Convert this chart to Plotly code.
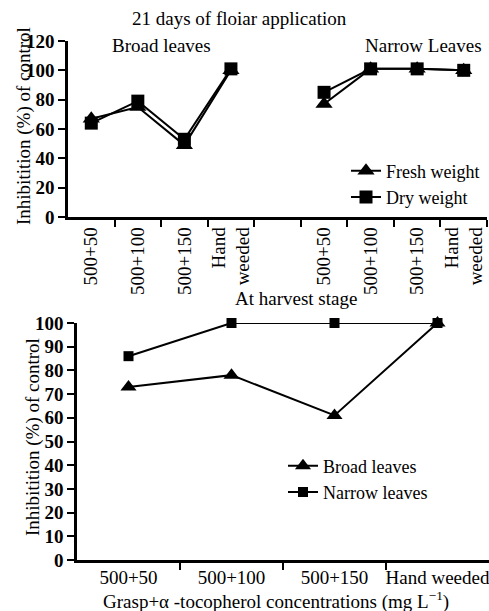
import plotly.graph_objects as go

# ---------------- data ----------------
top_categories = ["500+50", "500+100", "500+150", "Hand<br>weeded"]
broad_fresh = [67, 75, 49, 100]
broad_dry = [64, 79, 53, 101]
narrow_fresh = [77, 101, 101, 100]
narrow_dry = [85, 101, 101, 100]

bottom_categories = ["500+50", "500+100", "500+150", "Hand weeded"]
harvest_broad = [73, 78, 61, 100]
harvest_narrow = [86, 100, 100, 100]

top_y_ticks = [0, 20, 40, 60, 80, 100, 120]
bottom_y_ticks = [0, 10, 20, 30, 40, 50, 60, 70, 80, 90, 100]

# ---------------- layout helpers ----------------
W, H = 489, 611
FONT = "Liberation Serif"


def fx(px):
    return px / W


def fy(py):
    return 1 - py / H


broad_x = list(range(len(top_categories)))                    # slots 0..3
narrow_x = [i + len(top_categories) + 1 for i in broad_x]     # slots 5..8
bottom_x = list(range(len(bottom_categories)))

fig = go.Figure()

line_style = dict(color="black", width=2)
tri = dict(symbol="triangle-up", size=15, color="black")
sq = dict(symbol="square", size=13, color="black")

# top panel
fig.add_trace(go.Scatter(x=broad_x, y=broad_fresh, mode="lines+markers", name="Fresh weight",
                         legendgroup="fw", line=line_style, marker=tri, cliponaxis=False,
                         xaxis="x", yaxis="y", legend="legend"))
fig.add_trace(go.Scatter(x=narrow_x, y=narrow_fresh, mode="lines+markers", name="Fresh weight",
                         legendgroup="fw", showlegend=False, line=line_style, marker=tri,
                         cliponaxis=False, xaxis="x", yaxis="y"))
fig.add_trace(go.Scatter(x=broad_x, y=broad_dry, mode="lines+markers", name="Dry weight",
                         legendgroup="dw", line=line_style, marker=sq, cliponaxis=False,
                         xaxis="x", yaxis="y", legend="legend"))
fig.add_trace(go.Scatter(x=narrow_x, y=narrow_dry, mode="lines+markers", name="Dry weight",
                         legendgroup="dw", showlegend=False, line=line_style, marker=sq,
                         cliponaxis=False, xaxis="x", yaxis="y"))

# bottom panel
fig.add_trace(go.Scatter(x=bottom_x, y=harvest_broad, mode="lines+markers", name="Broad leaves",
                         line=line_style, marker=dict(symbol="triangle-up", size=14, color="black"),
                         cliponaxis=False, xaxis="x2", yaxis="y2", legend="legend2"))
fig.add_trace(go.Scatter(x=bottom_x, y=harvest_narrow, mode="lines+markers", name="Narrow leaves",
                         line=line_style, marker=dict(symbol="square", size=10, color="black"),
                         cliponaxis=False, xaxis="x2", yaxis="y2", legend="legend2"))

axis_common = dict(showline=True, linecolor="black", linewidth=2.5, showgrid=False,
                   zeroline=False, automargin=False)
num_font = dict(family=FONT, size=19, color="black", weight="bold")
cat_font = dict(family=FONT, size=19, color="black")

top_slots = len(top_categories) * 2 + 1
bottom_slots = len(bottom_categories)

legend_font = dict(family=FONT, size=18, color="black")

fig.update_layout(
    width=W, height=H,
    margin=dict(l=0, r=0, t=0, b=0),
    paper_bgcolor="white", plot_bgcolor="white",
    font=dict(family=FONT, size=19, color="black"),
    xaxis=dict(domain=[fx(68), fx(487)], anchor="y", range=[-0.5, top_slots - 0.5],
               tickmode="array", tickvals=broad_x + narrow_x, ticktext=top_categories * 2,
               tickangle=-90, ticks="", tickfont=cat_font, ticklabeloverflow="allow",
               minor=dict(tickmode="array", tickvals=[i + 0.5 for i in range(top_slots)],
                          ticks="outside", ticklen=7, tickwidth=2, tickcolor="black"),
               **axis_common),
    yaxis=dict(domain=[fy(217), fy(41)], anchor="x", range=[0, 120],
               tickmode="array", tickvals=top_y_ticks, ticks="outside", ticklen=7,
               tickwidth=2, tickcolor="black", tickfont=num_font, **axis_common),
    xaxis2=dict(domain=[fx(77), 1.0], anchor="y2", range=[-0.5, bottom_slots - 0.5],
                tickmode="array", tickvals=bottom_x, ticktext=bottom_categories,
                tickangle=0, ticks="", tickfont=cat_font, ticklabeloverflow="allow",
                ticklabelstandoff=-2,
                minor=dict(tickmode="array", tickvals=[i + 0.5 for i in range(bottom_slots - 1)],
                           ticks="outside", ticklen=7, tickwidth=2, tickcolor="black"),
                **axis_common),
    yaxis2=dict(domain=[fy(560), fy(323)], anchor="x2", range=[0, 100],
                tickmode="array", tickvals=bottom_y_ticks, ticks="outside", ticklen=7,
                tickwidth=2, tickcolor="black", tickfont=num_font, **axis_common),
    legend=dict(x=fx(346), y=fy(184), xanchor="left", yanchor="middle",
                bgcolor="rgba(0,0,0,0)", font=legend_font,
                tracegroupgap=0, itemwidth=30),
    legend2=dict(x=fx(283), y=fy(479), xanchor="left", yanchor="middle",
                 bgcolor="rgba(0,0,0,0)", font=legend_font,
                 tracegroupgap=0, itemwidth=30),
    showlegend=True,
)

ann_font = dict(family=FONT, size=19, color="black")
annotations = [
    dict(text="21 days of floiar application", x=fx(239), y=fy(19)),
    dict(text="Broad leaves", x=fx(161), y=fy(45)),
    dict(text="Narrow Leaves", x=fx(484), y=fy(45), xanchor="right"),
    dict(text="At harvest stage", x=fx(296), y=fy(299)),
    dict(text="Grasp+α -tocopherol concentrations (mg L<sup>−1</sup>)", x=fx(276), y=fy(615),
         yanchor="bottom"),
    dict(text="Inhibitition (%) of control", x=fx(24), y=fy(126), textangle=-90),
    dict(text="Inhibitition (%) of control", x=fx(33), y=fy(437), textangle=-90),
]
for a in annotations:
    a.setdefault("xanchor", "center")
    a.setdefault("yanchor", "middle")
    fig.add_annotation(xref="paper", yref="paper", showarrow=False, font=ann_font, **a)

fig.write_html("out.html", config={"displayModeBar": False},
               post_script="document.body.style.margin='0';")
